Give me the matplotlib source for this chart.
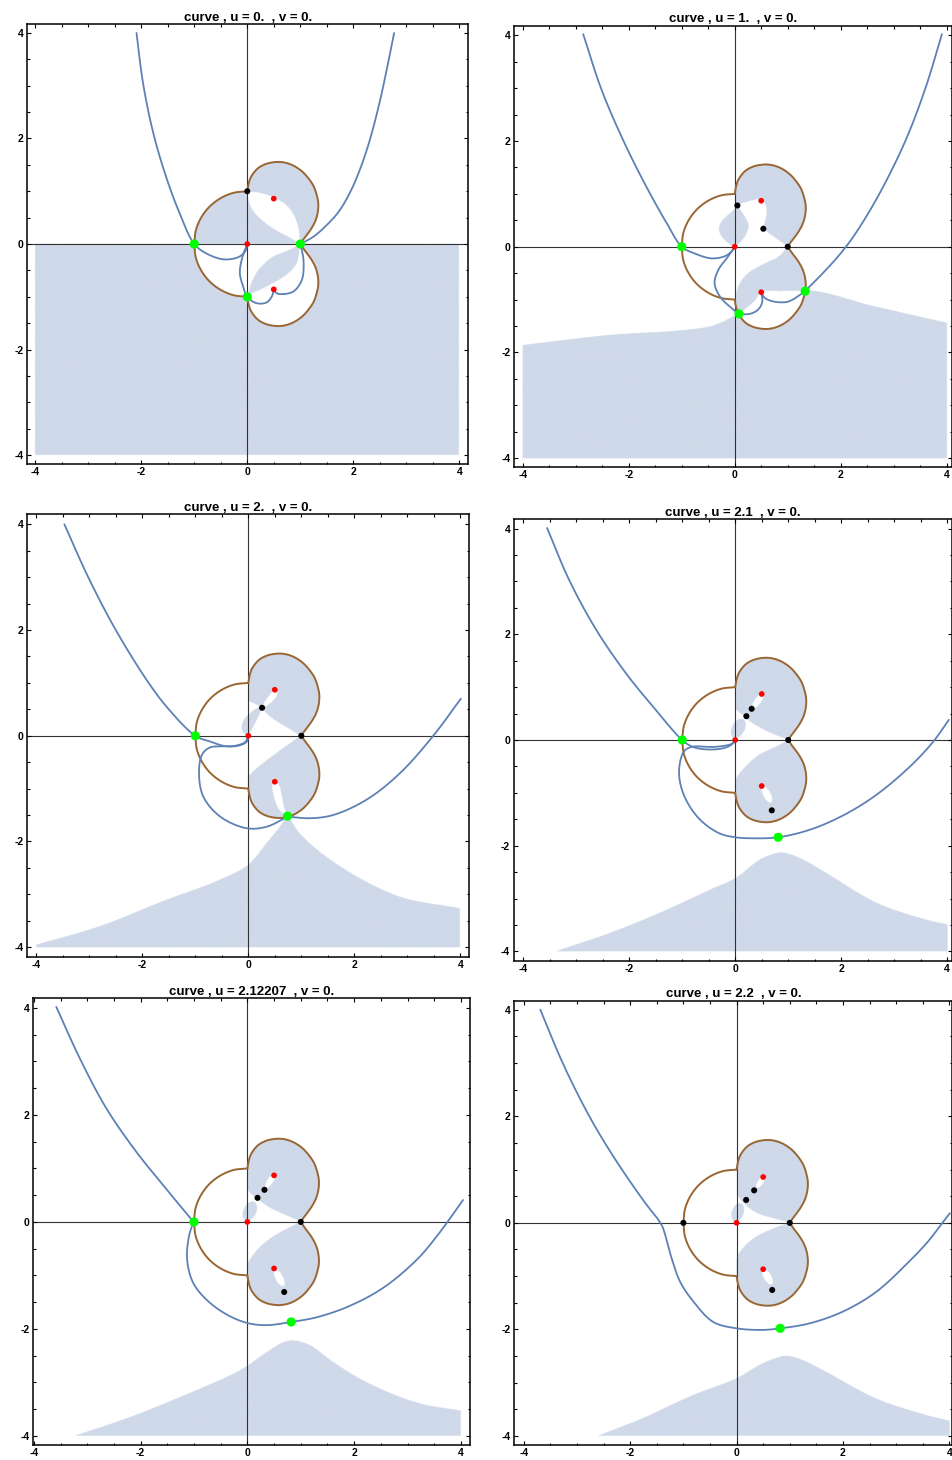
import numpy as np
import matplotlib
matplotlib.use("Agg")
import matplotlib.pyplot as plt
from matplotlib.path import Path
from matplotlib.ticker import MultipleLocator

plt.rcParams['font.family'] = ['Liberation Sans', 'DejaVu Sans']
plt.rcParams['axes.unicode_minus'] = False

# ------------------------------------------------------------------ data
titles = ["curve , u = 0.  , v = 0.", "curve , u = 1.  , v = 0.",
          "curve , u = 2.  , v = 0.", "curve , u = 2.1  , v = 0.",
          "curve , u = 2.12207  , v = 0.", "curve , u = 2.2  , v = 0."]

# brown curve, upper half (lower half is its mirror image)
brown_arc_x = [-1.0, -0.97, -0.87, -0.71, -0.5, -0.26, 0.0]
brown_arc_y = [0.0, 0.26, 0.5, 0.71, 0.87, 0.97, 1.0]
brown_lobe_x = [0.0, 0.02, 0.06, 0.13, 0.22, 0.36, 0.5, 0.62, 0.76, 0.9, 1.04,
                1.15, 1.25, 1.31, 1.34, 1.33, 1.29, 1.22, 1.13, 1.06, 1.0]
brown_lobe_y = [1.0, 1.12, 1.25, 1.36, 1.45, 1.52, 1.55, 1.555, 1.53, 1.47, 1.37,
                1.25, 1.1, 0.93, 0.77, 0.6, 0.45, 0.31, 0.18, 0.09, 0.0]

# blue curves (one list of polylines per panel)
blue_p1 = [
    [(-2.09, 4.0), (-1.965, 3.04), (-1.77, 2.09), (-1.53, 1.27), (-1.275, 0.58), (-1.0, 0.0),
     (-0.77, -0.18), (-0.45, -0.29), (-0.17, -0.25), (-0.04, -0.14), (0.0, 0.0)],
    [(0.0, 0.0), (-0.09, -0.24), (-0.14, -0.55), (-0.08, -0.8), (0.0, -1.0), (0.17, -1.12),
     (0.36, -1.11), (0.46, -1.0), (0.5, -0.87)],
    [(0.5, -0.87), (0.55, -0.93), (0.65, -0.95), (0.87, -0.9), (1.03, -0.68), (1.06, -0.3), (1.0, 0.0)],
    [(1.0, 0.0), (1.25, 0.14), (1.5, 0.36), (1.73, 0.62), (1.95, 1.0), (2.14, 1.45), (2.32, 2.0),
     (2.5, 2.7), (2.64, 3.35), (2.77, 4.0)],
]
blue_p2 = [
    [(-2.86, 4.02), (-2.51, 2.96), (-2.08, 1.96), (-1.67, 1.14), (-1.28, 0.44), (-1.0, 0.0),
     (-0.75, -0.13), (-0.44, -0.22), (-0.19, -0.18), (-0.06, -0.09), (0.0, 0.0)],
    [(0.0, 0.0), (-0.13, -0.19), (-0.31, -0.44), (-0.38, -0.69), (-0.28, -0.94), (-0.06, -1.16),
     (0.08, -1.26), (0.28, -1.27), (0.44, -1.19), (0.52, -1.04), (0.5, -0.86)],
    [(0.5, -0.86), (0.57, -0.97), (0.75, -1.04), (1.0, -1.04), (1.19, -0.94), (1.33, -0.83),
     (1.72, -0.44), (2.02, -0.1), (2.28, 0.25), (2.73, 1.0), (3.22, 2.0), (3.6, 3.0), (3.91, 4.02)],
]
blue_p3 = [
    [(-3.47, 4.0), (-3.02, 3.0), (-2.5, 2.0), (-1.88, 1.0), (-1.5, 0.5), (-1.0, 0.0),
     (-0.72, -0.11), (-0.41, -0.2), (-0.16, -0.18), (-0.03, -0.11), (0.0, 0.0)],
    [(0.0, 0.0), (-0.06, -0.12), (-0.25, -0.19), (-0.5, -0.2), (-0.72, -0.22), (-0.87, -0.35),
     (-0.93, -0.7), (-0.85, -1.15), (-0.53, -1.53), (-0.03, -1.75), (0.35, -1.72), (0.74, -1.53)],
    [(0.74, -1.53), (1.16, -1.56), (1.6, -1.5), (2.23, -1.21), (2.86, -0.71), (3.49, 0.0), (4.01, 0.7)],
]
blue_p4 = [
    [(-3.55, 4.01), (-3.13, 3.02), (-2.62, 2.08), (-2.06, 1.26), (-1.55, 0.63), (-1.0, 0.0),
     (-0.8, -0.13), (-0.48, -0.18), (-0.17, -0.14), (-0.04, -0.06), (0.0, 0.0)],
    [(0.0, 0.0), (-0.06, -0.07), (-0.38, -0.13), (-0.82, -0.13), (-0.97, -0.22), (-1.06, -0.6),
     (-0.97, -1.04), (-0.69, -1.48), (-0.31, -1.76), (0.0, -1.84), (0.38, -1.86), (0.81, -1.84),
     (1.4, -1.7), (2.03, -1.43), (2.66, -1.04), (3.3, -0.5), (3.73, -0.04), (4.03, 0.38)],
]
blue_p5 = [
    [(-3.58, 4.02), (-3.14, 3.06), (-2.64, 2.12), (-2.08, 1.31), (-1.58, 0.69), (-1.01, 0.0)],
    [(-1.01, 0.0), (-1.09, -0.25), (-1.13, -0.69), (-1.02, -1.13), (-0.77, -1.45), (-0.39, -1.73),
     (0.0, -1.89), (0.36, -1.93), (0.82, -1.87), (1.31, -1.78), (1.94, -1.56), (2.57, -1.215),
     (3.19, -0.69), (3.5, -0.33), (3.77, 0.03), (4.04, 0.41)],
]
blue_p6 = [
    [(-3.69, 4.0), (-3.27, 3.0), (-2.78, 2.02), (-2.32, 1.25), (-1.81, 0.5), (-1.6, 0.22),
     (-1.48, 0.07), (-1.4, -0.06), (-1.35, -0.2), (-1.29, -0.42), (-1.22, -0.67), (-1.06, -1.11),
     (-0.81, -1.48), (-0.44, -1.86), (0.0, -1.98), (0.49, -2.01), (0.82, -1.98), (1.36, -1.89),
     (1.99, -1.67), (2.62, -1.3), (3.24, -0.73), (3.6, -0.35), (3.87, 0.0), (4.01, 0.18)],
]

# marked points
red_p1 = [(0.0, 0.0), (0.5, 0.86), (0.5, -0.86)]
red_p2 = [(0.0, 0.0), (0.5, 0.87), (0.5, -0.86)]
red_p3 = [(0.0, 0.0), (0.5, 0.87), (0.5, -0.87)]
red_p4 = [(0.0, 0.0), (0.5, 0.87), (0.5, -0.87)]
red_p5 = [(0.0, 0.0), (0.5, 0.87), (0.5, -0.87)]
red_p6 = [(0.0, 0.0), (0.5, 0.86), (0.5, -0.87)]
black_p1 = [(0.0, 1.0)]
black_p2 = [(0.05, 0.78), (0.54, 0.34), (1.0, 0.0)]
black_p3 = [(0.26, 0.53), (1.0, 0.0)]
black_p4 = [(0.21, 0.45), (0.31, 0.59), (1.0, 0.0), (0.69, -1.33)]
black_p5 = [(0.19, 0.45), (0.32, 0.6), (1.0, 0.0), (0.69, -1.31)]
black_p6 = [(-1.0, 0.0), (0.18, 0.43), (0.33, 0.61), (1.0, 0.0), (0.67, -1.26)]
green_p1 = [(-1.0, 0.0), (1.0, 0.0), (0.0, -1.0)]
green_p2 = [(-1.0, 0.0), (0.08, -1.27), (1.33, -0.84)]
green_p3 = [(-1.0, 0.0), (0.74, -1.52)]
green_p4 = [(-1.0, 0.0), (0.81, -1.84)]
green_p5 = [(-1.0, 0.0), (0.82, -1.87)]
green_p6 = [(0.82, -1.98)]

# lower shaded region: upper boundary, left to right
shade_edge_p1 = [(-4.0, 0.0), (4.0, 0.0)]
shade_edge_p2 = [(-4.0, -1.86), (-2.37, -1.67), (-1.11, -1.59), (-0.48, -1.51), (-0.23, -1.42),
                 (-0.04, -1.32), (0.08, -1.27), (0.7, -1.05), (1.33, -0.83), (2.6, -1.12), (4.0, -1.44)]
shade_edge_p3 = [(-4.0, -3.95), (-2.8, -3.6), (-1.54, -3.1), (-0.6, -2.75), (0.0, -2.44),
                 (0.35, -2.03), (0.6, -1.72), (0.74, -1.55), (0.97, -1.84), (1.29, -2.14),
                 (1.92, -2.58), (2.86, -3.04), (4.0, -3.26)]
shade_edge_p4 = [(-3.4, -4.0), (-2.37, -3.65), (-1.43, -3.27), (-0.48, -2.83), (0.0, -2.61),
                 (0.46, -2.26), (0.77, -2.14), (0.9, -2.13), (1.21, -2.23), (1.72, -2.52),
                 (2.66, -3.08), (3.6, -3.4), (4.0, -3.49)]
shade_edge_p5 = [(-3.23, -4.0), (-2.14, -3.63), (-1.2, -3.25), (-0.26, -2.84), (0.0, -2.69),
                 (0.36, -2.44), (0.68, -2.25), (0.89, -2.22), (1.18, -2.31), (1.61, -2.62),
                 (2.24, -3.0), (3.18, -3.38), (4.0, -3.53)]
shade_edge_p6 = [(-2.61, -4.0), (-1.77, -3.67), (-0.83, -3.24), (0.0, -2.92), (0.43, -2.67),
                 (0.74, -2.54), (0.93, -2.5), (1.24, -2.58), (1.68, -2.8), (2.62, -3.3),
                 (3.56, -3.61), (4.0, -3.72)]

# shading inside the brown curve: boundaries of the upper / lower shaded lobes
upper_edge_p2 = [(1.0, 0.0), (0.8, 0.14), (0.62, 0.27), (0.54, 0.34), (0.57, 0.48), (0.6, 0.66),
                 (0.57, 0.82), (0.5, 0.89), (0.35, 0.88), (0.18, 0.83), (0.05, 0.79), (0.0, 0.79)]
upper_edge_p3 = [(1.0, 0.0), (0.8, 0.12), (0.6, 0.24), (0.42, 0.36), (0.3, 0.47), (0.2, 0.57),
                 (0.1, 0.62), (0.0, 0.66)]
upper_edge_p4 = [(1.0, 0.0), (0.72, 0.11), (0.45, 0.24), (0.25, 0.37), (0.1, 0.5), (0.0, 0.58)]
upper_edge_p5 = [(1.0, 0.0), (0.74, 0.12), (0.45, 0.25), (0.25, 0.38), (0.1, 0.5), (0.0, 0.6)]
upper_edge_p6 = [(1.0, 0.0), (0.69, 0.08), (0.38, 0.18), (0.13, 0.36), (0.03, 0.5), (0.0, 0.58)]
lower_edge_p2 = [(1.0, 0.0), (0.82, -0.19), (0.6, -0.3), (0.44, -0.38), (0.25, -0.5), (0.12, -0.65),
                 (0.04, -0.82), (0.02, -1.0), (0.03, -1.15), (0.08, -1.27), (0.22, -1.16),
                 (0.38, -1.02), (0.5, -0.86), (0.9, -0.84), (1.4, -0.83), (2.0, -0.8)]
lower_edge_p3 = [(1.0, 0.0), (0.79, -0.14), (0.53, -0.33), (0.28, -0.52), (0.09, -0.68), (0.0, -0.78)]
lower_edge_p4 = [(1.0, 0.0), (0.75, -0.13), (0.44, -0.28), (0.19, -0.5), (0.03, -0.69), (0.0, -0.75)]
lower_edge_p5 = [(1.0, 0.0), (0.74, -0.13), (0.43, -0.31), (0.18, -0.53), (0.02, -0.75), (0.0, -0.78)]
lower_edge_p6 = [(1.0, 0.0), (0.69, -0.11), (0.31, -0.3), (0.06, -0.55), (0.0, -0.67)]

# panel 1 lenses
lens_top_p1 = [(0.0, 1.0), (0.24, 0.97), (0.49, 0.89), (0.74, 0.74), (0.9, 0.52), (0.98, 0.26), (1.0, 0.0)]
lens_bot_p1 = [(1.0, 0.0), (0.8, 0.13), (0.55, 0.26), (0.3, 0.44), (0.11, 0.64), (0.02, 0.86), (0.0, 1.0)]
leaf_a_p1 = [(1.0, 0.0), (0.8, -0.11), (0.49, -0.24), (0.24, -0.46), (0.08, -0.74), (0.02, -0.96)]
leaf_b_p1 = [(0.02, -0.96), (0.24, -0.87), (0.49, -0.74), (0.75, -0.58), (0.94, -0.36), (1.0, 0.0)]
# panel 2 blob
blob_p2 = [(0.0, 0.0), (-0.12, 0.06), (-0.24, 0.18), (-0.3, 0.32), (-0.26, 0.46), (-0.15, 0.58),
           (-0.03, 0.68), (0.05, 0.76), (0.1, 0.7), (0.2, 0.55), (0.26, 0.4), (0.22, 0.25), (0.12, 0.1)]
# panel 3 blob and white slivers
blob_p3 = [(0.27, 0.55), (0.22, 0.42), (0.14, 0.25), (0.05, 0.08), (0.0, 0.0), (-0.08, 0.05),
           (-0.12, 0.16), (-0.08, 0.3), (0.04, 0.43), (0.17, 0.52)]
sliver_up_p3 = [(0.53, 0.88), (0.55, 0.78), (0.47, 0.66), (0.34, 0.56), (0.26, 0.53), (0.3, 0.62),
                (0.4, 0.76), (0.48, 0.86)]
sliver_dn_p3 = [(0.5, -0.85), (0.58, -0.92), (0.63, -1.1), (0.68, -1.35), (0.74, -1.53),
                (0.58, -1.38), (0.49, -1.15), (0.46, -0.95)]
# ellipses (cx, cy, half-length, half-width, angle) for panels 4-6
blob_p4 = (0.05, 0.22, 0.2, 0.12, 62)
blob_p5 = (0.05, 0.2, 0.19, 0.12, 65)
blob_p6 = (0.02, 0.19, 0.18, 0.11, 70)
hole_up_p4 = (0.42, 0.74, 0.16, 0.06, 55)
hole_up_p5 = (0.43, 0.76, 0.15, 0.055, 55)
hole_up_p6 = (0.45, 0.76, 0.13, 0.05, 55)
hole_dn_p4 = (0.59, -1.03, 0.17, 0.07, -62)
hole_dn_p5 = (0.6, -1.05, 0.17, 0.07, -62)
hole_dn_p6 = (0.58, -1.02, 0.16, 0.07, -60)

# axes placement (pixels: left, right, top, bottom) and limits
frames = [(27.3, 468.3, 24.0, 464.0), (514.3, 952.5, 25.7, 466.7),
          (27.3, 469.3, 514.3, 956.7), (513.7, 952.5, 519.0, 961.0),
          (33.3, 470.0, 998.3, 1445.0), (514.3, 952.5, 1000.7, 1445.0)]
xlims = [(-4.15, 4.17), (-4.16, 4.11), (-4.17, 4.17), (-4.18, 4.1), (-4.01, 4.17), (-4.18, 4.06)]
ylims = [(-4.17, 4.17), (-4.16, 4.18), (-4.18, 4.19), (-4.18, 4.18), (-4.17, 4.18), (-4.17, 4.17)]

SHADE = (207 / 255, 217 / 255, 233 / 255)
BLUE = '#5e81b5'
BROWN = '#996633'


# ------------------------------------------------------------------ helpers
def smooth(pts, n=10):
    """Centripetal Catmull-Rom through the given points (rendering only)."""
    P = np.asarray(pts, float)
    if len(P) < 3:
        return P
    E = np.vstack([2 * P[0] - P[1], P, 2 * P[-1] - P[-2]])
    out = []
    for i in range(1, len(E) - 2):
        p0, p1, p2, p3 = E[i - 1], E[i], E[i + 1], E[i + 2]
        t0 = 0.0
        t1 = t0 + max(np.linalg.norm(p1 - p0), 1e-9) ** 0.5
        t2 = t1 + max(np.linalg.norm(p2 - p1), 1e-9) ** 0.5
        t3 = t2 + max(np.linalg.norm(p3 - p2), 1e-9) ** 0.5
        t = np.linspace(t1, t2, n, endpoint=False)[:, None]
        a1 = (t1 - t) / (t1 - t0) * p0 + (t - t0) / (t1 - t0) * p1
        a2 = (t2 - t) / (t2 - t1) * p1 + (t - t1) / (t2 - t1) * p2
        a3 = (t3 - t) / (t3 - t2) * p2 + (t - t2) / (t3 - t2) * p3
        b1 = (t2 - t) / (t2 - t0) * a1 + (t - t0) / (t2 - t0) * a2
        b2 = (t3 - t) / (t3 - t1) * a2 + (t - t1) / (t3 - t1) * a3
        out.append((t2 - t) / (t2 - t1) * b1 + (t - t1) / (t2 - t1) * b2)
    out.append(P[-1:])
    return np.vstack(out)


def ellipse(spec, n=80):
    cx, cy, a, b, ang = spec
    t = np.linspace(0, 2 * np.pi, n, endpoint=False)
    c, s = np.cos(np.radians(ang)), np.sin(np.radians(ang))
    x, y = a * np.cos(t), b * np.sin(t)
    return np.column_stack([cx + x * c - y * s, cy + x * s + y * c])


def closed_smooth(pts):
    P = np.asarray(pts, float)
    Q = np.vstack([P[-2:], P, P[:3]])
    S = smooth(Q, 8)
    n_per = 8
    return S[2 * n_per: 2 * n_per + len(P) * n_per + 1]


# brown curve pieces
arc_up = list(zip(brown_arc_x, brown_arc_y))
lobe_up = list(zip(brown_lobe_x, brown_lobe_y))
lobe_dn = [(x, -y) for x, y in lobe_up[::-1]]
arc_dn = [(x, -y) for x, y in arc_up[::-1]]
brown_pieces = [smooth(arc_up, 14), smooth(lobe_up, 10), smooth(lobe_dn, 10), smooth(arc_dn, 14)]
brown_poly = np.vstack(brown_pieces)

# grid for region shading
gx = np.linspace(-4.2, 4.2, 1201)
GX, GY = np.meshgrid(gx, gx)
grid_pts = np.column_stack([GX.ravel(), GY.ravel()])


def inside(poly):
    return Path(np.asarray(poly, float)).contains_points(grid_pts).reshape(GX.shape)


B_mask = inside(brown_poly)


def lower_region(edge):
    e = smooth(edge, 10)
    return np.vstack([e, [(4.0, -4.0), (e[0, 0], -4.0)]])


def upper_lobe(edge):
    return np.vstack([smooth(edge, 10), [(0.0, 2.5), (2.5, 2.5), (2.5, 0.0)]])


def lower_lobe(edge):
    return np.vstack([smooth(edge, 10), [(0.0, -2.5), (2.5, -2.5), (2.5, 0.0)]])


rect_upper = [(-2.5, 0.0), (2.5, 0.0), (2.5, 2.5), (-2.5, 2.5)]

panels = [
    dict(edge=shade_edge_p1,
         fill=[rect_upper, np.vstack([smooth(leaf_a_p1), smooth(leaf_b_p1)])],
         holes=[np.vstack([smooth(lens_top_p1), smooth(lens_bot_p1)])],
         blue=blue_p1, red=red_p1, black=black_p1, green=green_p1),
    dict(edge=shade_edge_p2,
         fill=[upper_lobe(upper_edge_p2), closed_smooth(blob_p2),
               np.vstack([smooth(lower_edge_p2, 10), [(2.5, -0.8), (2.5, 0.0)]])],
         holes=[],
         blue=blue_p2, red=red_p2, black=black_p2, green=green_p2),
    dict(edge=shade_edge_p3,
         fill=[upper_lobe(upper_edge_p3), closed_smooth(blob_p3), lower_lobe(lower_edge_p3)],
         holes=[closed_smooth(sliver_up_p3), closed_smooth(sliver_dn_p3)],
         blue=blue_p3, red=red_p3, black=black_p3, green=green_p3),
    dict(edge=shade_edge_p4,
         fill=[upper_lobe(upper_edge_p4), ellipse(blob_p4), lower_lobe(lower_edge_p4)],
         holes=[ellipse(hole_up_p4), ellipse(hole_dn_p4)],
         blue=blue_p4, red=red_p4, black=black_p4, green=green_p4),
    dict(edge=shade_edge_p5,
         fill=[upper_lobe(upper_edge_p5), ellipse(blob_p5), lower_lobe(lower_edge_p5)],
         holes=[ellipse(hole_up_p5), ellipse(hole_dn_p5)],
         blue=blue_p5, red=red_p5, black=black_p5, green=green_p5),
    dict(edge=shade_edge_p6,
         fill=[upper_lobe(upper_edge_p6), ellipse(blob_p6), lower_lobe(lower_edge_p6)],
         holes=[ellipse(hole_up_p6), ellipse(hole_dn_p6)],
         blue=blue_p6, red=red_p6, black=black_p6, green=green_p6),
]

# ------------------------------------------------------------------ figure
W, H = 953, 1460
fig = plt.figure(figsize=(W / 100, H / 100), dpi=100)

for k, spec in enumerate(panels):
    l, r, t, b = frames[k]
    ax = fig.add_axes([l / W, 1 - b / H, (r - l) / W, (b - t) / H])

    R_mask = inside(lower_region(spec['edge']))
    I_mask = np.zeros_like(B_mask)
    for p in spec['fill']:
        I_mask |= inside(p)
    for p in spec['holes']:
        I_mask &= ~inside(p)
    shade = (R_mask & ~B_mask) | (B_mask & I_mask)
    img = np.empty(GX.shape + (4,))
    img[..., 0], img[..., 1], img[..., 2] = SHADE
    img[..., 3] = shade.astype(float)
    ax.imshow(img, origin='lower', extent=[-4.2, 4.2, -4.2, 4.2],
              interpolation='bilinear', aspect='auto', zorder=0)

    ax.axhline(0, color='#333333', lw=0.8, zorder=1)
    ax.axvline(0, color='#333333', lw=0.8, zorder=1)

    for piece in brown_pieces:
        ax.plot(piece[:, 0], piece[:, 1], color=BROWN, lw=1.4, zorder=2,
                solid_capstyle='round')
    for line in spec['blue']:
        s = smooth(line, 12)
        ax.plot(s[:, 0], s[:, 1], color=BLUE, lw=1.3, zorder=3, solid_capstyle='round')

    gx_, gy_ = zip(*spec['green'])
    ax.scatter(gx_, gy_, s=44, color='#00ff00', edgecolors='none', zorder=4)
    rx_, ry_ = zip(*spec['red'])
    ax.scatter(rx_, ry_, s=17, color='#ff0000', edgecolors='none', zorder=5)
    bx_, by_ = zip(*spec['black'])
    ax.scatter(bx_, by_, s=19, color='black', edgecolors='none', zorder=5)

    ax.set_xlim(*xlims[k])
    ax.set_ylim(*ylims[k])
    ax.xaxis.set_major_locator(MultipleLocator(2))
    ax.yaxis.set_major_locator(MultipleLocator(2))
    ax.xaxis.set_minor_locator(MultipleLocator(0.5))
    ax.yaxis.set_minor_locator(MultipleLocator(0.5))
    ax.tick_params(which='both', direction='in', top=True, right=True,
                   labelsize=7.5, width=0.8, colors='black')
    ax.tick_params(which='major', length=3.2, pad=2.5)
    ax.tick_params(which='minor', length=1.8)
    for lab in ax.get_xticklabels() + ax.get_yticklabels():
        lab.set_fontweight('bold')
    for sp in ax.spines.values():
        sp.set_linewidth(1.1)
    ax.set_title(titles[k], fontsize=9.5, fontweight='bold', pad=2.5)

fig.savefig('out.png', dpi=100)
